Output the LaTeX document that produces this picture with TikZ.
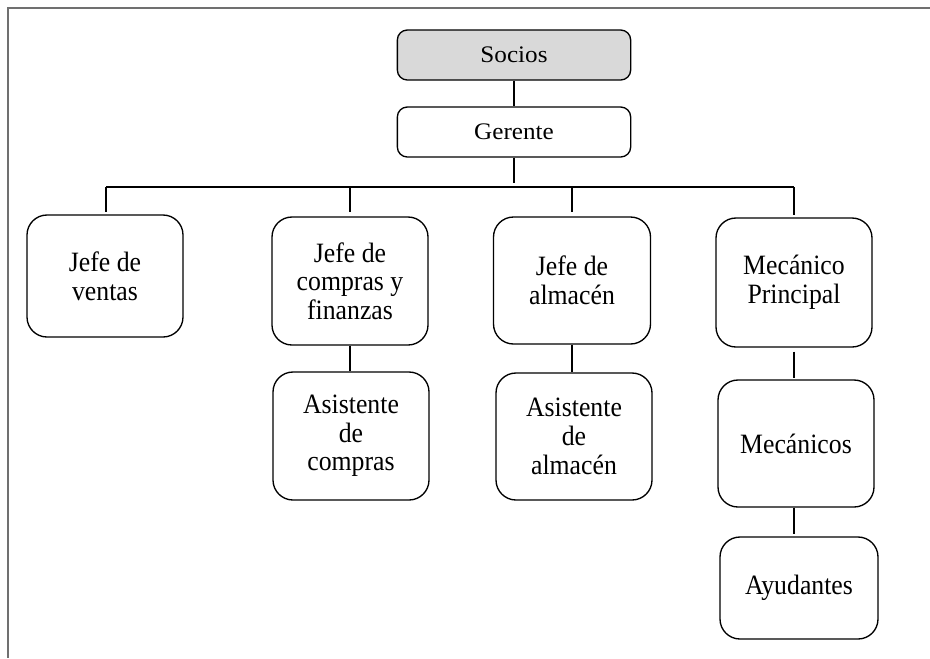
\documentclass[tikz,border=0pt]{standalone}
\usepackage{fontspec}
\setmainfont{Liberation Serif}
\newfontfamily\unitfont[FakeStretch=0.92]{Liberation Serif}
\newfontfamily\headfont[FakeStretch=1.06]{Liberation Serif}
\begin{document}
\begin{tikzpicture}[x=0.75pt,y=-0.75pt,
  frameline/.style={draw={rgb,255:red,112;green,112;blue,112},line width=1.2pt},
  link/.style={draw,line width=1pt},
  unit/.style={draw,line width=1pt,rounded corners=15pt,align=center,inner sep=0pt,
    font=\unitfont\fontsize{21}{21.5}\selectfont},
  topunit/.style={unit,rounded corners=7.5pt,minimum width=175pt,minimum height=37.5pt,
    font=\headfont\fontsize{17.8}{20}\selectfont},
  boxsize/.style 2 args={minimum width=#1*0.75pt,minimum height=#2*0.75pt}]
\useasboundingbox (0,0) rectangle (930,658);
\fill[white] (0,0) rectangle (930,658);

% page frame (top and left edges)
\draw[frameline] (930,8) -- (8,8) -- (8,658);

% top of the chart
\node[topunit,fill={rgb,255:red,217;green,217;blue,217}] (socios) at (514,55) {Socios};
\node[topunit] (gerente) at (514,132) {Gerente};

% first level
\node[unit,boxsize={156}{122}] (ventas)  at (105,276)   {Jefe de\\ventas};
\node[unit,boxsize={156}{128}] (compras) at (350,281)   {Jefe de\\compras y\\finanzas};
\node[unit,boxsize={157}{127}] (almacen) at (572,280.5) {Jefe de\\almacén};
\node[unit,boxsize={156}{129}] (mecp)    at (794,282.5) {Mecánico\\Principal};

% second and third levels
\node[unit,boxsize={156}{128}] (asiscomp)  at (351,436)   {Asistente\\de\\compras};
\node[unit,boxsize={156}{127}] (asisalm)   at (574,436.5) {Asistente\\de\\almacén};
\node[unit,boxsize={156}{127}] (mecanicos) at (796,443.5) {Mecánicos};
\node[unit,boxsize={158}{102}] (ayudantes) at (799,588)   {Ayudantes};

% horizontal bus under the manager
\coordinate (busL) at (106,187);
\coordinate (busR) at (794,187);
\draw[link] (busL) -- (busR);

% connectors
\draw[link] (socios.south) -- (gerente.north);
\draw[link,shorten >=3pt] (gerente.south) -- (gerente.south |- busL);
\draw[link,shorten >=2pt] (busL) -- (busL |- ventas.north);
\draw[link,shorten >=3pt] (compras.north |- busL) -- (compras.north);
\draw[link,shorten >=3pt] (almacen.north |- busL) -- (almacen.north);
\draw[link,shorten >=2pt] (busR) -- (mecp.north);
\draw[link] (compras.south) -- (asiscomp.north -| compras.south);
\draw[link] (almacen.south) -- (asisalm.north -| almacen.south);
\draw[link,shorten <=3pt,shorten >=1pt] (mecp.south) -- (mecanicos.north -| mecp.south);
\draw[link,shorten >=2pt] (mecanicos.south -| mecp.south) -- (ayudantes.north -| mecp.south);
\end{tikzpicture}
\end{document}
